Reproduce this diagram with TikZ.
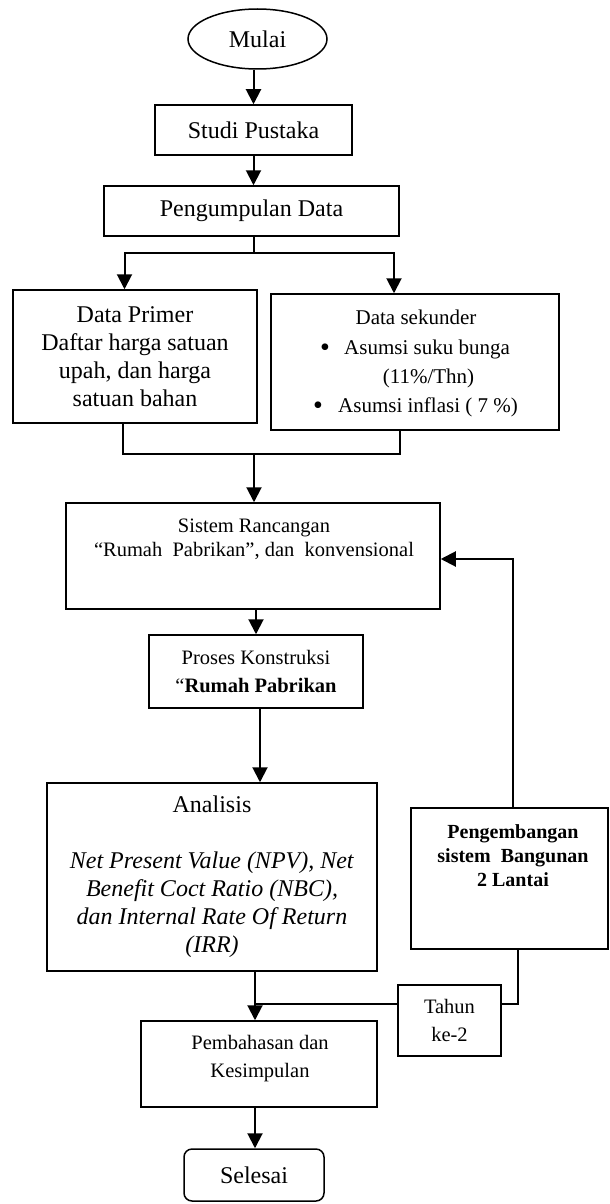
\documentclass[tikz,border=0pt]{standalone}
\usepackage{fontspec}
\setmainfont{Liberation Serif}
\usetikzlibrary{shapes.geometric,arrows.meta}
\begin{document}
\begin{tikzpicture}[x=1pt,y=-1pt,
  box/.style={draw,line width=1.5pt,inner sep=0pt,align=center},
  arr/.style={line width=2pt,-{Triangle[length=15pt,width=15pt]}},
  ln/.style={line width=1.5pt},
  txt/.style={inner sep=0pt,align=center},
  f24/.style={font=\fontsize{24}{28}\selectfont},
  f21/.style={font=\fontsize{21}{29}\selectfont},
  f20/.style={font=\fontsize{20.5}{28}\selectfont},
  f20s/.style={font=\fontsize{20.5}{24}\selectfont},
  f20b/.style={font=\fontsize{20}{24}\selectfont\bfseries},
]
\useasboundingbox (0,0) rectangle (610,1204);

% nodes
\node[box,ellipse,minimum width=139pt,minimum height=60pt,f24] (mulai) at (257.5,39) {Mulai};
\node[box,minimum width=197pt,minimum height=50pt,f24] (studi) at (253.5,130) {Studi Pustaka};
\node[box,minimum width=295pt,minimum height=50pt,f24] (kumpul) at (251.5,211) {Pengumpulan Data};
\node[box,minimum width=244pt,minimum height=133pt,f24] (primer) at (135,356.5) {Data Primer\\Daftar harga satuan\\upah, dan harga\\satuan bahan};

\node[box,minimum width=288pt,minimum height=136pt] (sekunder) at (415,362) {};
\node[txt,f21,anchor=base] (sek0) at (416,324) {Data sekunder};
\node[txt,font=\fontsize{28}{29}\selectfont,anchor=base] (sekb1) at (325,356) {\textbullet};
\node[txt,f21,anchor=base west] (sek1) at (344,354) {Asumsi suku bunga};
\node[txt,f21,anchor=base] (sek2) at (428.5,383) {(11\%/Thn)};
\node[txt,font=\fontsize{28}{29}\selectfont,anchor=base] (sekb2) at (318,414) {\textbullet};
\node[txt,f21,anchor=base west] (sek3) at (338,412) {Asumsi inflasi ( 7 \%)};

\node[box,minimum width=374pt,minimum height=106pt] (sistem) at (253,556) {};
\node[txt,f20s] (sistemt) at (254,539) {Sistem Rancangan\\“Rumah\ \ Pabrikan”, dan\ \ konvensional};

\node[box,minimum width=214pt,minimum height=73pt,f20] (proses) at (256,671.5) {Proses Konstruksi\\“\textbf{Rumah Pabrikan}};

\node[box,minimum width=330pt,minimum height=188pt,f24] (analisis) at (212,877) {Analisis\\[28pt]\textit{Net Present Value (NPV), Net}\\\textit{Benefit Coct Ratio (NBC),}\\\textit{dan Internal Rate Of Return}\\\textit{(IRR)}};

\node[box,minimum width=197pt,minimum height=141pt] (kembang) at (509.5,878.5) {};
\node[txt,f20b] (kembangt) at (513,856) {Pengembangan\\sistem\ \ Bangunan\\2 Lantai};

\node[box,minimum width=103pt,minimum height=71pt,f20] (tahun) at (449.5,1020.5) {Tahun\\ke-2};

\node[box,minimum width=236pt,minimum height=86pt] (bahas) at (259,1064) {};
\node[txt,f20] (bahast) at (260,1059) {Pembahasan dan\\Kesimpulan};

\node[box,rounded corners=8pt,minimum width=140pt,minimum height=52pt,f24] (selesai) at (254,1175) {Selesai};

% connectors
\draw[arr] (mulai.south -| studi.north) -- (studi.north);
\draw[arr] (studi.south) -- (studi.south |- kumpul.north);
\coordinate (split) at (254,253);
\draw[arr] (kumpul.south -| split) -- (split) -| ([xshift=-10.5pt]primer.north);
\draw[arr] (split) -| ([xshift=-21pt]sekunder.north);
\coordinate (join) at (254,454);
\draw[ln] ([xshift=-12pt]primer.south) |- (join) -| ([xshift=-15pt]sekunder.south);
\draw[arr] (join) -- (join |- sistem.north);
\draw[arr] ([xshift=3pt]sistem.south) -- ([xshift=3pt]sistem.south |- proses.north);
\draw[arr] ([xshift=4pt]proses.south) -- ([xshift=4pt]proses.south |- analisis.north);
\coordinate (m) at (255,1004);
\draw[arr] (analisis.south -| m) -- (bahas.north -| m);
\draw[ln] (tahun.west |- m) -- (m);
\draw[ln] (tahun.east |- m) -| ([xshift=8.5pt]kembang.south);
\draw[arr] ([xshift=3.5pt]kembang.north) |- ([yshift=-3pt]sistem.east);
\draw[arr] (bahas.south -| m) -- (selesai.north -| m);
\end{tikzpicture}
\end{document}
